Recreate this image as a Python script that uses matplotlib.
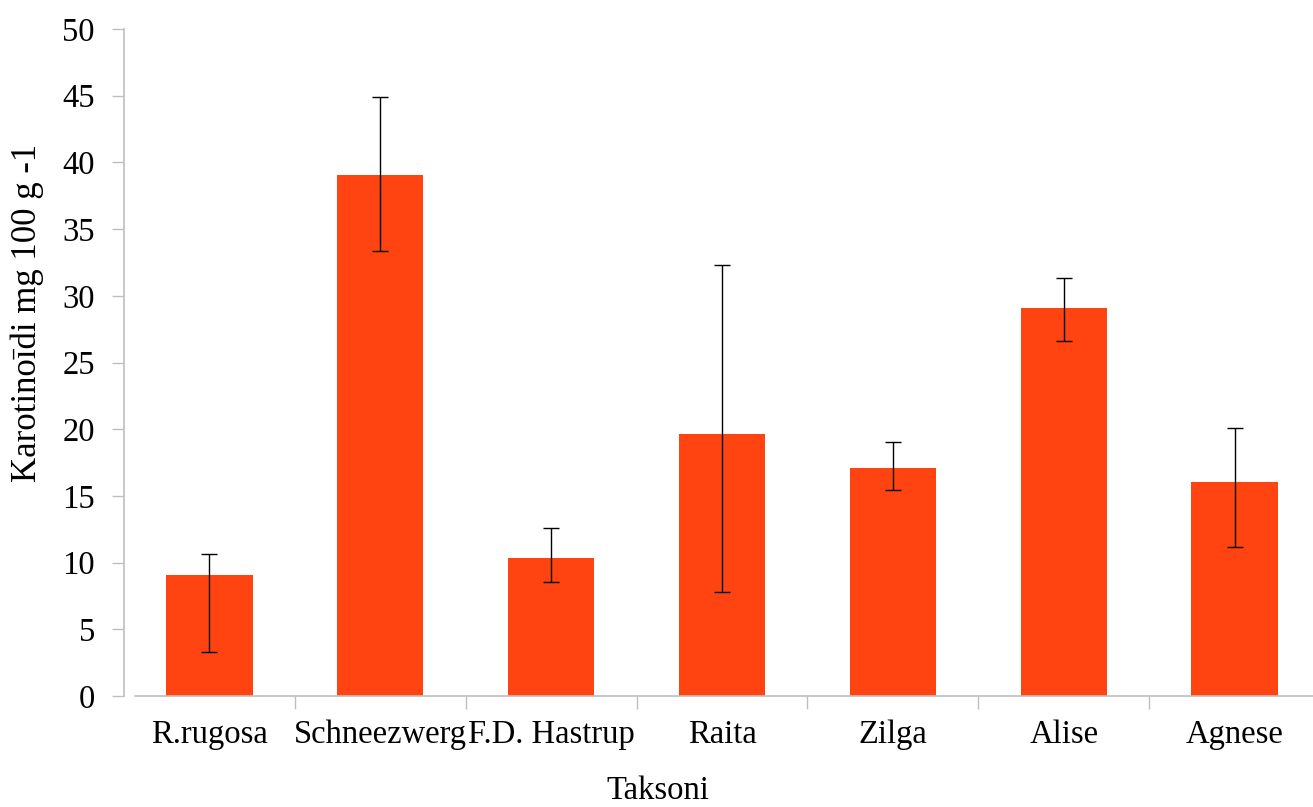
import matplotlib
matplotlib.use("Agg")
import matplotlib.pyplot as plt
import numpy as np

categories = ["R.rugosa", "Schneezwerg", "F.D. Hastrup", "Raita", "Zilga", "Alise", "Agnese"]
values = [9.07, 39.05, 10.34, 19.64, 17.09, 29.09, 16.04]
err_upper = [10.67, 44.9, 12.6, 32.29, 19.06, 31.33, 20.07]
err_lower = [3.32, 33.36, 8.55, 7.82, 15.47, 26.64, 11.15]

plt.rcParams['font.family'] = ['Liberation Serif', 'DejaVu Serif']

W, H = 1313, 807
fig = plt.figure(figsize=(W / 100, H / 100), dpi=100)
left, right, top, bottom = 124, 1320, 29, 696
ax = fig.add_axes([left / W, 1 - bottom / H, (right - left) / W, (bottom - top) / H])

x = np.arange(len(categories))
vals = np.array(values)
yerr = np.array([vals - np.array(err_lower), np.array(err_upper) - vals])
ax.bar(x, vals, width=0.505, color="#FF4311", zorder=2)
ax.errorbar(x, vals, yerr=yerr, fmt="none", ecolor="black", elinewidth=1.0,
            capsize=5.5, capthick=1.0, zorder=3)

ax.set_xlim(-0.5, 6.5)
ax.set_ylim(0, 50)
ax.set_yticks(np.arange(0, 51, 5))
ax.tick_params(axis="y", direction="out", length=9, width=1, color="#BFBFBF",
               labelsize=23.5, pad=12)
ax.set_xticks(x)
ax.set_xticklabels(categories, fontsize=23.5)
ax.tick_params(axis="x", length=0, pad=17)
ax.set_xticks(np.arange(0.5, 6.5, 1), minor=True)
ax.tick_params(axis="x", which="minor", direction="out", length=9, width=1, color="#BFBFBF")

for s in ["top", "right"]:
    ax.spines[s].set_visible(False)
ax.spines["left"].set_color("#BFBFBF")
ax.spines["bottom"].set_color("#BFBFBF")
ax.spines["left"].set_linewidth(1.2)
ax.spines["bottom"].set_linewidth(1.2)
ax.spines["bottom"].set_bounds(-0.5 + 11 / 171, 6.5)

fig.text(27 / W, 1 - 313 / H, "Karotinoīdi mg 100 g -1", rotation=90,
         ha="center", va="center", fontsize=25)
fig.text(658 / W, 1 - 791 / H, "Taksoni", ha="center", va="center", fontsize=23.5)

fig.savefig("out.png", dpi=100)
